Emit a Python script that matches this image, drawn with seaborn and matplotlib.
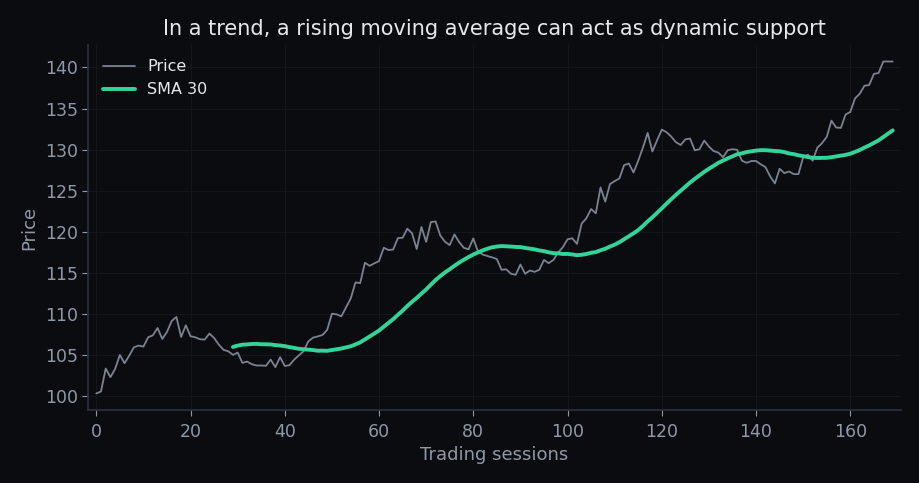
import numpy as np
import pandas as pd
import matplotlib
matplotlib.use("Agg")
import matplotlib.pyplot as plt
import seaborn as sns

# closing prices, one per trading session
price = [
    100.36, 100.60, 103.39, 102.34, 103.35, 105.05, 104.04, 104.97, 105.98, 106.18,
    106.06, 107.19, 107.43, 108.32, 106.99, 107.84, 109.17, 109.66, 107.23, 108.65,
    107.31, 107.19, 106.95, 106.91, 107.64, 107.11, 106.30, 105.66, 105.49, 105.05,
    105.33, 104.08, 104.24, 103.92, 103.76, 103.76, 103.72, 104.48, 103.56, 104.77,
    103.70, 103.80, 104.48, 105.00, 105.50, 106.70, 107.15, 107.30, 107.47, 108.10,
    110.06, 109.98, 109.74, 110.83, 111.92, 113.86, 113.78, 116.25, 115.88, 116.18,
    116.46, 118.08, 117.80, 117.86, 119.25, 119.29, 120.40, 119.84, 117.92, 120.60,
    118.80, 121.20, 121.27, 119.56, 118.80, 118.40, 119.70, 118.77, 118.06, 117.90,
    119.21, 117.60, 117.25, 117.07, 116.91, 116.70, 115.40, 115.45, 114.91, 114.79,
    116.04, 114.91, 115.31, 115.15, 115.39, 116.60, 116.20, 116.60, 117.49, 118.14,
    119.11, 119.23, 118.55, 121.02, 121.66, 122.79, 122.26, 125.41, 123.68, 125.82,
    126.18, 126.50, 128.12, 128.32, 127.23, 128.65, 130.26, 132.04, 129.78, 131.15,
    132.44, 132.12, 131.60, 130.91, 130.57, 131.25, 131.35, 129.92, 130.06, 131.11,
    130.38, 129.84, 129.64, 129.09, 129.94, 130.06, 129.98, 128.66, 128.40, 128.62,
    128.62, 128.22, 127.88, 126.75, 125.90, 127.68, 127.15, 127.35, 127.03, 127.03,
    129.10, 129.40, 128.66, 130.24, 130.79, 131.56, 133.53, 132.69, 132.65, 134.28,
    134.59, 136.24, 136.80, 137.77, 137.86, 139.21, 139.32, 140.72, 140.72, 140.72,
]
window = 30

sessions = np.arange(len(price))
df = pd.DataFrame({"session": sessions, "Price": price})
df["SMA 30"] = df["Price"].rolling(window).mean()

bg = "#0b0c10"
sns.set_theme(style="dark")
plt.rcParams.update({
    "figure.facecolor": bg,
    "axes.facecolor": bg,
    "axes.edgecolor": "#2a313b",
    "axes.grid": True,
    "grid.color": "#12161d",
    "grid.linewidth": 0.8,
    "xtick.color": "#8f99a6",
    "ytick.color": "#8f99a6",
    "xtick.bottom": True,
    "ytick.left": True,
    "text.color": "#e6e8eb",
    "axes.labelcolor": "#8f99a6",
})
plt.rcParams["font.family"] = ["DejaVu Sans"]

fig, ax = plt.subplots(figsize=(9.2, 4.83), dpi=100)
fig.subplots_adjust(left=0.096, right=0.979, top=0.907, bottom=0.151)

sns.lineplot(data=df, x="session", y="Price", ax=ax, color="#7b838f",
             linewidth=1.3, label="Price")
sns.lineplot(data=df, x="session", y="SMA 30", ax=ax, color="#34d399",
             linewidth=2.8, label="SMA 30")

ax.margins(x=0.01)
ax.set_title("In a trend, a rising moving average can act as dynamic support",
             fontsize=15, color="#e6e8eb", pad=7)
ax.set_xlabel("Trading sessions", fontsize=13, labelpad=4)
ax.set_ylabel("Price", fontsize=13, labelpad=5)
ax.tick_params(labelsize=12.5, length=4, width=0.8, color="#8f99a6")
ax.tick_params(axis="x", pad=5)
for side in ("top", "right"):
    ax.spines[side].set_visible(False)

leg = ax.legend(loc="upper left", frameon=False, fontsize=11.5)
for t in leg.get_texts():
    t.set_color("#e6e8eb")

fig.savefig("out.png", dpi=100, facecolor=bg)
